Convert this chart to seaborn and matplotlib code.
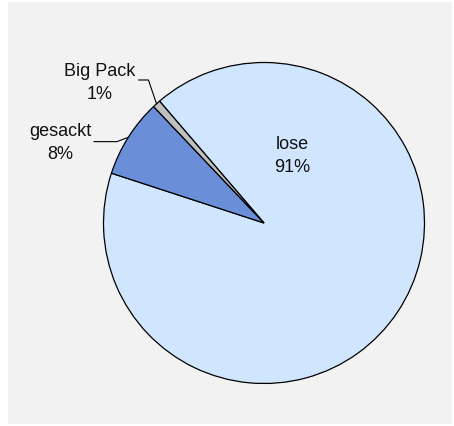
import numpy as np
import matplotlib
matplotlib.use("Agg")
import matplotlib.pyplot as plt
import seaborn as sns

sns.set_theme(style="white")
plt.rcParams['font.family'] = ['Liberation Sans', 'DejaVu Sans']

categories = ["lose", "gesackt", "Big Pack"]
values = [91.3, 7.9, 0.8]
pct_labels = ["91%", "8%", "1%"]
colors = ["#D0E6FF", "#6A8FD8", "#C0C0C0"]

W, H = 454, 427
fig = plt.figure(figsize=(W / 100, H / 100), dpi=100, facecolor="white")
# gray chart area as background axes
bg = fig.add_axes([8 / W, (H - 425) / H, 444 / W, 422 / H], zorder=-1)
bg.set_facecolor("#F2F2F2")
bg.set_xticks([])
bg.set_yticks([])
for s in bg.spines.values():
    s.set_visible(False)

cx, cy, r = 264, H - 224, 160.5
ax = fig.add_axes([(cx - r) / W, (cy - r) / H, 2 * r / W, 2 * r / H], zorder=1)
ax.set_facecolor("none")

wedges, _ = ax.pie(values, colors=colors, startangle=130.6, counterclock=False,
                   radius=1.0, wedgeprops=dict(edgecolor="black", linewidth=0.9))
ax.set_xlim(-1, 1)
ax.set_ylim(-1, 1)
ax.set_aspect("equal")
ax.axis("off")

# label positions (axes data units) and leader corner points
label_pos = {"lose": (0.174, 0.424), "gesackt": (-1.271, 0.505), "Big Pack": (-1.022, 0.878)}
leaders = {"gesackt": [(-1.06, 0.507), (-0.916, 0.507)],
           "Big Pack": [(-0.782, 0.891), (-0.72, 0.891)]}

for w, cat, pl in zip(wedges, categories, pct_labels):
    x, y = label_pos[cat]
    ax.text(x, y, f"{cat}\n{pl}", ha="center", va="center", fontsize=13,
            color="#111111", linespacing=1.5, clip_on=False)
    if cat in leaders:
        th = np.deg2rad((w.theta1 + w.theta2) / 2)
        pts = leaders[cat] + [(np.cos(th) * 1.0, np.sin(th) * 1.0)]
        xs, ys = zip(*pts)
        ax.plot(xs, ys, color="black", linewidth=0.8, clip_on=False)

fig.savefig("out.png", dpi=100, facecolor="white")
